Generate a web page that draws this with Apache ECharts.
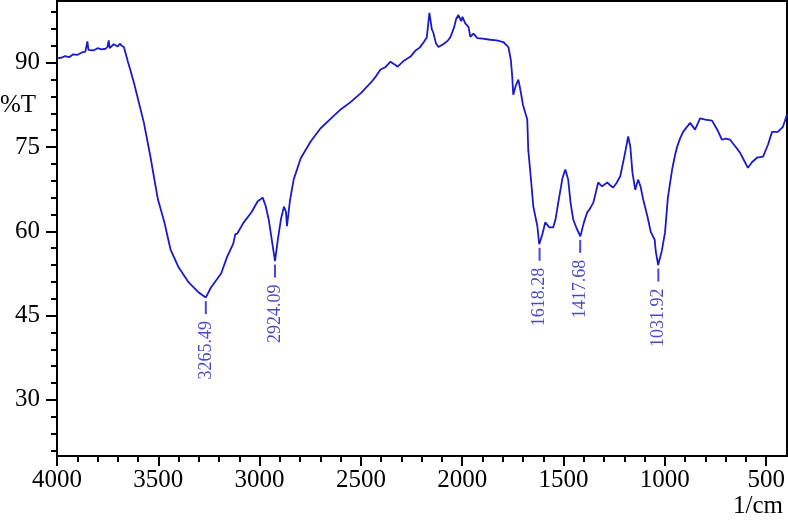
<!DOCTYPE html>
<html>
<head>
<meta charset="utf-8">
<script src="https://cdn.jsdelivr.net/npm/echarts@6/dist/echarts.min.js"></script>
<style>
  html, body { margin: 0; padding: 0; background: #fff; }
  #chart { width: 788px; height: 527px; }
</style>
</head>
<body>
<div id="chart"></div>
<script>
// spectrum (1/cm, %T)
var wavenumber = [4000, 3980, 3960, 3940, 3920, 3900, 3880, 3860, 3850, 3845, 3820, 3800, 3780, 3760, 3750, 3745, 3740, 3720, 3700, 3690, 3680, 3670, 3660, 3650, 3640, 3620, 3600, 3571, 3540, 3502, 3470, 3440, 3400, 3350, 3300, 3266, 3240, 3190, 3160, 3130, 3120, 3110, 3080, 3040, 3010, 2985, 2970, 2955, 2940, 2924, 2910, 2895, 2880, 2870, 2865, 2850, 2832, 2797, 2748, 2700, 2650, 2600, 2551, 2500, 2477, 2450, 2430, 2403, 2380, 2354, 2330, 2319, 2290, 2255, 2230, 2210, 2191, 2175, 2162, 2150, 2142, 2130, 2117, 2090, 2070, 2058, 2040, 2030, 2019, 2005, 1999, 1985, 1969, 1960, 1945, 1925, 1900, 1861, 1830, 1797, 1772, 1760, 1753, 1748, 1735, 1723, 1713, 1700, 1679, 1674, 1660, 1649, 1629, 1620, 1605, 1590, 1570, 1551, 1540, 1526, 1505, 1491, 1477, 1465, 1452, 1435, 1417, 1400, 1383, 1370, 1353, 1340, 1329, 1310, 1284, 1270, 1255, 1240, 1220, 1196, 1181, 1170, 1160, 1146, 1132, 1120, 1107, 1085, 1070, 1063, 1050, 1045, 1033, 1015, 999, 985, 964, 950, 939, 925, 910, 875, 851, 826, 800, 767, 740, 718, 700, 678, 650, 629, 610, 590, 570, 545, 515, 490, 471, 442, 417, 397];
var transmittance = [90.8, 90.9, 91.2, 91.0, 91.5, 91.4, 91.8, 92.0, 93.8, 92.3, 92.2, 92.6, 92.4, 92.5, 92.9, 94.0, 92.6, 93.3, 92.9, 93.4, 93.0, 92.8, 91.5, 90.2, 89.0, 86.4, 83.5, 79.3, 73.5, 65.7, 61.6, 56.8, 53.6, 50.9, 49.1, 48.2, 50.0, 52.5, 55.5, 57.8, 59.5, 59.6, 61.5, 63.4, 65.3, 66.0, 64.5, 62.1, 58.5, 54.7, 58.5, 62.1, 64.4, 63.5, 60.9, 65.5, 69.2, 73.0, 76.0, 78.3, 80.0, 81.7, 83.0, 84.6, 85.5, 86.5, 87.4, 88.8, 89.2, 90.2, 89.6, 89.3, 90.3, 91.1, 92.2, 92.7, 93.6, 94.5, 98.9, 96.0, 95.3, 93.5, 92.8, 93.4, 94.0, 94.6, 96.3, 97.8, 98.5, 97.4, 98.2, 97.0, 96.4, 94.6, 95.2, 94.4, 94.3, 94.1, 94.0, 93.7, 92.8, 90.5, 87.5, 84.3, 86.0, 87.0, 85.2, 82.5, 79.9, 74.5, 69.0, 64.4, 60.9, 57.7, 59.4, 61.6, 60.7, 60.7, 62.0, 65.1, 69.5, 71.0, 69.2, 65.0, 62.1, 60.5, 59.1, 61.5, 63.4, 64.0, 65.1, 67.0, 68.7, 68.0, 68.7, 68.2, 67.8, 68.5, 69.8, 74.0, 76.9, 75.0, 70.5, 67.4, 69.2, 68.0, 65.7, 62.5, 60.0, 59.4, 58.5, 56.5, 54.0, 56.5, 59.8, 66.0, 71.0, 73.5, 75.1, 76.5, 77.7, 79.3, 78.1, 80.1, 79.9, 79.7, 78.0, 76.3, 76.5, 76.3, 75.0, 74.0, 72.7, 71.3, 72.3, 73.1, 73.3, 75.5, 77.7, 77.7, 78.6, 80.8];

// labelled peaks
var peakWavenumber = [3265.49, 2924.09, 1618.28, 1417.68, 1031.92];
var peakT = [48.2, 54.7, 57.7, 59.1, 54.0];

var xMajorTicks = [500, 1000, 1500, 2000, 2500, 3000, 3500, 4000];
var xMinorTicks = [];
for (var w = 500; w <= 4000; w += 100) xMinorTicks.push(w);
var yMajorTicks = [30, 45, 60, 75, 90];
var yMinorTicks = [];
for (var t = 21; t <= 99; t += 3) yMinorTicks.push(t);

var serif = '"Liberation Serif", "Times New Roman", serif';
var lineBlue = '#1a1acc';

var spectrum = wavenumber.map(function (v, i) { return [v, transmittance[i]]; });
var peaks = peakWavenumber.map(function (v, i) { return [v, peakT[i]]; });

var chart = echarts.init(document.getElementById('chart'));
chart.setOption({
    animation: false,
    grid: {
        left: 57, right: 1, top: 1, bottom: 71,
        show: true, borderColor: '#000', borderWidth: 2,
        outerBoundsMode: 'none'
    },
    xAxis: [{
        type: 'value', min: 397, max: 4000, inverse: true, position: 'bottom',
        axisLine: { lineStyle: { color: '#000', width: 2 } },
        axisTick: { customValues: xMajorTicks, length: 10, lineStyle: { color: '#000', width: 2 } },
        axisLabel: {
            customValues: xMajorTicks, margin: 12, color: '#000', fontFamily: serif, fontSize: 25,
            formatter: function (v) { return String(v); }
        },
        splitLine: { show: false }
    }, {
        type: 'value', min: 397, max: 4000, inverse: true, position: 'bottom',
        axisLine: { show: false },
        axisTick: { customValues: xMinorTicks, length: 6, lineStyle: { color: '#000', width: 2 } },
        axisLabel: { show: false },
        splitLine: { show: false }
    }],
    yAxis: [{
        type: 'value', min: 20, max: 101,
        axisLine: { show: true, lineStyle: { color: '#000', width: 2 } },
        axisTick: { show: true, customValues: yMajorTicks, length: 11, lineStyle: { color: '#000', width: 2 } },
        axisLabel: { customValues: yMajorTicks, margin: 17, color: '#000', fontFamily: serif, fontSize: 25 },
        splitLine: { show: false }
    }, {
        type: 'value', min: 20, max: 101, position: 'left',
        axisLine: { show: false },
        axisTick: { show: true, customValues: yMinorTicks, length: 6, lineStyle: { color: '#000', width: 2 } },
        axisLabel: { show: false },
        splitLine: { show: false }
    }],
    graphic: [
        { type: 'text', left: 0, top: 93, style: { text: '%T', font: '25px ' + serif, fill: '#000' } },
        { type: 'text', right: 5, top: 494, style: { text: '1/cm', font: '25px ' + serif, fill: '#000' } }
    ],
    series: [{
        type: 'line',
        data: spectrum,
        showSymbol: false,
        lineStyle: { color: lineBlue, width: 1.8 },
        z: 3
    }, {
        type: 'scatter',
        data: peaks,
        symbol: 'rect',
        symbolSize: [2, 13],
        symbolOffset: [0, 10],
        itemStyle: { color: lineBlue },
        label: {
            show: true,
            position: 'bottom',
            distance: 7,
            rotate: 90,
            align: 'right',
            verticalAlign: 'middle',
            color: '#1a1ab4',
            fontFamily: serif,
            fontSize: 18,
            formatter: function (p) { return p.value[0].toFixed(2); }
        },
        z: 4
    }]
});
</script>
</body>
</html>
